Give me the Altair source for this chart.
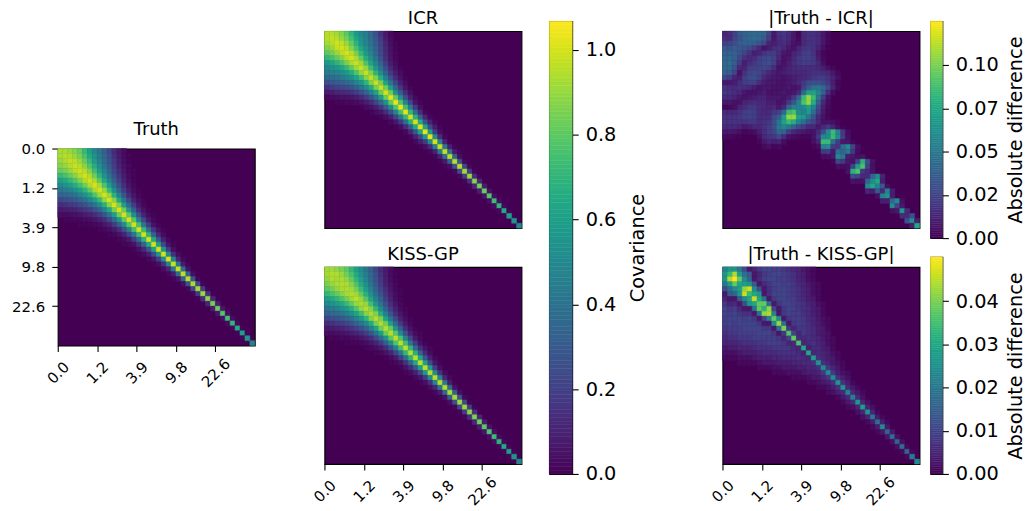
# Cell values on a coarse 40x40 grid.
# Each row lists values from the diagonal rightwards; the lower triangle mirrors it.
import altair as alt
import pandas as pd

tick_labels = ["0.0", "1.2", "3.9", "9.8", "22.6"]
tick_positions = [0, 8, 16, 24, 32]
GRID = 40

truth_rows = [
[.93,.93,.90,.87,.82,.72,.60,.50,.42,.33,.22,.13,.07,.03],
[.95,.94,.90,.85,.76,.65,.54,.44,.35,.25,.15,.08,.03,.01],
[.97,.95,.90,.82,.71,.59,.47,.37,.27,.17,.09,.04,.01],
[.98,.95,.88,.78,.66,.53,.41,.30,.19,.10,.05,.02],
[.99,.95,.86,.74,.60,.47,.34,.22,.13,.06,.02,.01],
[1.0,.94,.83,.69,.54,.40,.27,.16,.08,.03,.01],
[1.0,.93,.80,.64,.48,.33,.20,.10,.04,.01],
[1.0,.92,.77,.59,.41,.26,.14,.06,.02],
[1.0,.90,.72,.52,.34,.19,.09,.03,.01],
[1.0,.89,.68,.47,.28,.14,.06,.02],
[1.0,.87,.64,.42,.23,.10,.04,.01],
[1.0,.85,.60,.37,.18,.07,.02],
[1.0,.83,.56,.32,.14,.05,.01],
[1.0,.80,.52,.27,.10,.03,.01],
[1.0,.78,.47,.22,.07,.02],
[1.0,.75,.42,.18,.05,.01],
[1.0,.72,.39,.16,.05,.01],
[1.0,.69,.34,.12,.03],
[1.0,.65,.29,.09,.02],
[1.0,.61,.24,.06,.01],
[1.0,.57,.19,.04],
[1.0,.52,.15,.03],
[1.0,.48,.11,.02],
[.98,.43,.08,.01],
[.97,.38,.05],
[.96,.33,.04],
[.95,.28,.02],
[.93,.23,.01],
[.92,.18,.01],
[.90,.14],
[.88,.11],
[.85,.08],
[.82,.06],
[.78,.04],
[.74,.03],
[.70,.02],
[.65,.01],
[.60,.01],
[.55],
[.48],
]

icr_rows = [
[.95,.95,.92,.87,.80,.70,.58,.50,.44,.36,.26,.15,.07,.02],
[.97,.95,.90,.84,.75,.63,.53,.46,.38,.29,.18,.08,.03],
[1.0,.97,.90,.81,.69,.57,.48,.40,.31,.21,.11,.04,.01],
[1.0,.96,.87,.76,.63,.52,.43,.33,.22,.12,.05,.01],
[1.0,.95,.85,.71,.58,.47,.36,.24,.13,.05,.02],
[1.0,.93,.81,.66,.53,.41,.27,.15,.06,.02],
[.98,.91,.77,.62,.48,.33,.19,.08,.03],
[.98,.89,.73,.57,.41,.25,.12,.05,.01],
[.97,.87,.70,.52,.34,.18,.08,.03],
[.97,.86,.66,.46,.27,.13,.05,.01],
[.98,.85,.62,.41,.22,.09,.03],
[.98,.83,.59,.36,.17,.06,.01],
[1.0,.83,.55,.31,.13,.04],
[1.03,.81,.52,.26,.09,.02],
[1.04,.78,.48,.22,.06,.01],
[1.04,.75,.43,.17,.04],
[1.03,.71,.39,.13,.02],
[1.0,.68,.33,.11,.02],
[1.0,.66,.29,.10,.02],
[1.02,.63,.24,.08,.01],
[1.03,.58,.18,.04],
[1.03,.52,.14,.02],
[1.0,.47,.10,.01],
[.98,.43,.09,.01],
[.97,.39,.07,.01],
[.96,.33,.04],
[.95,.27,.02],
[.95,.23,.02],
[.92,.19,.01],
[.90,.14,.01],
[.87,.11],
[.84,.08],
[.82,.05],
[.78,.04],
[.73,.03],
[.70,.02],
[.65,.01],
[.60],
[.55],
[.48],
]

kiss_rows = [
[.91,.92,.89,.85,.80,.71,.60,.51,.42,.33,.22,.13,.07,.03],
[.94,.94,.90,.84,.76,.65,.54,.44,.35,.25,.15,.08,.03,.01],
[.92,.93,.89,.81,.70,.59,.47,.37,.27,.17,.09,.04,.01],
[.94,.93,.87,.77,.65,.53,.41,.30,.19,.10,.05,.02],
[.93,.92,.84,.72,.59,.46,.34,.22,.13,.06,.02,.01],
[.94,.91,.81,.67,.53,.39,.27,.16,.08,.03,.01],
[.96,.90,.78,.62,.47,.33,.20,.10,.04,.01],
[.93,.89,.74,.57,.41,.26,.14,.06,.02],
[.95,.87,.70,.51,.34,.19,.09,.03,.01],
[.93,.86,.66,.46,.28,.14,.06,.02],
[.95,.85,.62,.41,.23,.10,.04,.01],
[.94,.83,.59,.37,.18,.07,.02],
[.95,.82,.55,.32,.14,.05,.01],
[.95,.79,.51,.27,.10,.03,.01],
[.96,.77,.47,.22,.07,.02],
[.96,.74,.42,.18,.05,.01],
[.96,.71,.38,.15,.05,.01],
[.96,.68,.34,.12,.03],
[.96,.64,.29,.09,.02],
[.96,.60,.24,.06,.01],
[.96,.56,.19,.04],
[.95,.51,.15,.03],
[.95,.47,.11,.02],
[.95,.42,.08,.01],
[.94,.37,.05],
[.93,.32,.04],
[.92,.27,.02],
[.91,.23,.01],
[.90,.18,.01],
[.88,.14],
[.86,.11],
[.83,.08],
[.80,.06],
[.77,.04],
[.73,.03],
[.69,.02],
[.65,.01],
[.60,.01],
[.55],
[.48],
]

# thousandths
icr_diff_rows = [
[12,16,24,35,38,40,42,40,38,25,8,18,20,16,8,2,15,18,18,15,8,3],
[15,25,32,38,42,44,42,36,22,8,16,18,15,8,3,14,18,18,15,8,3],
[30,36,38,38,36,32,26,12,10,15,16,12,6,5,14,18,18,15,7,2],
[34,32,28,22,14,6,10,16,18,14,8,6,12,18,20,18,12,5,1],
[25,18,10,12,18,22,22,16,8,6,12,16,22,24,18,8,2],
[14,16,22,26,28,24,14,6,8,14,20,24,24,20,10,3],
[20,24,28,30,24,10,6,10,16,20,22,22,20,14,4],
[24,26,24,16,6,8,12,14,16,16,16,16,14,10,5,2],
[20,14,10,8,10,12,14,14,14,16,18,18,16,14,8,3],
[10,8,8,6,8,10,12,14,16,20,22,22,18,12,5],
[8,6,6,8,10,14,20,28,30,30,26,20,10,2],
[6,6,8,6,8,24,36,48,50,42,28,12,3],
[8,6,8,14,42,70,72,58,38,16,4],
[10,20,40,85,105,85,50,22,6],
[34,55,90,105,78,38,14,4],
[55,60,72,55,28,10,3],
[55,68,45,22,8,2],
[50,32,14,6,2],
[25,14,6,6,5,2],
[8,14,20,12,4,1],
[30,60,85,55,20,4],
[60,85,60,22,5],
[45,22,8,8,2],
[20,45,60,25,5],
[40,50,20,4],
[10,8,5,6],
[6,25,80,30,6],
[70,90,25,5],
[20,15,6],
[15,40,60,12],
[60,75,10],
[55,35,5],
[15,55,10],
[65,10],
[40,60,5],
[25,8],
[65,15],
[15,30],
[60,10],
[75],
]

kiss_diff_rows = [
[22,26,26,20,12,3,5,8,10,10,9,9,8,7,6,5,3,2,1],
[34,44,28,18,14,3,5,8,9,10,10,9,8,7,5,4,2,1],
[50,38,24,16,3,6,9,10,10,9,9,8,7,5,4,2,1],
[30,28,26,14,3,6,8,10,10,9,9,8,6,5,3,2,1],
[42,46,24,12,3,7,9,10,10,9,8,7,5,4,2,1],
[34,30,26,3,7,10,10,10,9,8,7,5,4,2,1],
[46,30,18,3,8,10,10,9,9,7,6,4,3,1],
[38,38,18,3,8,10,10,9,8,7,5,4,2,1],
[32,42,10,3,8,10,9,8,7,6,4,3,1],
[44,22,3,8,10,9,9,7,6,4,3,1],
[38,24,3,8,9,9,8,6,5,3,2,1],
[42,18,3,8,9,8,7,5,4,2,1],
[40,8,5,8,8,7,6,4,3,1],
[36,10,5,8,7,6,4,3,2],
[38,6,6,7,6,5,3,2,1],
[36,5,6,7,5,4,2,1],
[30,4,6,6,4,3,1],
[30,5,6,5,4,2,1],
[28,7,5,4,3,1],
[26,7,5,3,2,1],
[24,8,5,3,1],
[24,8,4,2,1],
[24,7,4,2],
[26,7,4,1],
[26,6,3,1],
[22,6,3,1],
[22,6,2],
[26,5,2],
[28,5,2],
[26,5,1],
[20,4,1],
[18,4,1],
[24,3],
[16,3],
[18,2],
[16,2],
[18,1],
[16,1],
[20],
[24],
]

cov_ticks = [0.0, 0.2, 0.4, 0.6, 0.8, 1.0]
cov_labels = ["0.0", "0.2", "0.4", "0.6", "0.8", "1.0"]
icr_diff_ticks = [0.0, 0.025, 0.05, 0.075, 0.1]
icr_diff_labels = ["0.00", "0.02", "0.05", "0.07", "0.10"]
kiss_diff_ticks = [0.0, 0.01, 0.02, 0.03, 0.04]
kiss_diff_labels = ["0.00", "0.01", "0.02", "0.03", "0.04"]
COV_MAX, ICR_MAX, KISS_MAX = 1.068, 0.1253, 0.0502

FONT = "DejaVu Sans"
DARK = "#440154"


def label_expr(values, labels):
    pairs = ", ".join(f"'{v:g}': '{l}'" for v, l in zip(values, labels))
    return "({" + pairs + "})[format(datum.value, '')]"


def cells(rows, unit=1.0):
    out = []
    for i, row in enumerate(rows):
        for d, v in enumerate(row):
            j = i + d
            out.append(dict(r=i, r2=i + 1, c=j, c2=j + 1, v=v * unit))
            if d:
                out.append(dict(r=j, r2=j + 1, c=i, c2=i + 1, v=v * unit))
    return pd.DataFrame(out)


def heat(rows, title, vmax, unit=1.0, xaxis=True, yaxis=False):
    sc = alt.Scale(scheme="viridis", domain=[0, vmax], clamp=True)
    common = dict(values=tick_positions, tickSize=6, tickWidth=1.1, tickColor="black",
                  labelFont=FONT, labelFontSize=15, labelColor="black", domain=False,
                  grid=False, title=None, labelExpr=label_expr(tick_positions, tick_labels))
    xa = alt.Axis(orient="bottom", labelAngle=315, labelAlign="center", labelBaseline="middle",
                  labelPadding=21, labelOverlap=False, **common) if xaxis else None
    ya = alt.Axis(orient="left", labelPadding=7, labelOverlap=False, **common) if yaxis else None
    return alt.Chart(cells(rows, unit)).mark_rect(strokeWidth=0.5).encode(
        x=alt.X("c:Q", scale=alt.Scale(domain=[0, GRID], nice=False), axis=xa),
        x2="c2:Q",
        y=alt.Y("r:Q", scale=alt.Scale(domain=[GRID, 0], nice=False), axis=ya),
        y2="r2:Q",
        color=alt.Color("v:Q", scale=sc, legend=None),
        stroke=alt.Stroke("v:Q", scale=sc, legend=None),
    ).properties(
        width=198, height=198,
        title=alt.TitleParams(title, font=FONT, fontSize=18, fontWeight="normal", color="black", offset=3),
        view=alt.ViewBackground(fill=DARK, stroke="black", strokeWidth=1.1),
    )


def colorbar(vmax, ticks, labels, title, w, h, title_pad):
    steps = 120
    df = pd.DataFrame([dict(a=vmax * k / steps, b=vmax * (k + 1) / steps, v=vmax * (k + .5) / steps)
                       for k in range(steps)])
    sc = alt.Scale(scheme="viridis", domain=[0, vmax])
    props = dict(width=w, height=h, view=alt.ViewBackground(stroke="black", strokeWidth=1.1))
    return alt.Chart(df).mark_rect(strokeWidth=0.5).encode(
        y=alt.Y("a:Q", scale=alt.Scale(domain=[0, vmax], nice=False), axis=alt.Axis(
            orient="right", values=ticks, labelExpr=label_expr(ticks, labels), tickSize=6,
            tickWidth=1.1, tickColor="black", labelFont=FONT, labelFontSize=19.4, labelColor="black",
            labelPadding=7, labelOverlap=False, domain=False, grid=False, title=title, titleFont=FONT,
            titleFontSize=19.4, titleFontWeight="normal", titleColor="black", titleAngle=270,
            titleBaseline="top", titlePadding=title_pad)),
        y2="b:Q",
        color=alt.Color("v:Q", scale=sc, legend=None),
        stroke=alt.Stroke("v:Q", scale=sc, legend=None),
    ).properties(**props)


def spacer(h):
    return alt.Chart(pd.DataFrame({"a": [0]})).mark_point(opacity=0).encode(
        x=alt.X("a:Q", axis=None), y=alt.Y("a:Q", axis=None)
    ).properties(width=1, height=h, view=alt.ViewBackground(stroke="transparent"))


def vc(*charts, spacing):
    return alt.vconcat(*charts, spacing=spacing).resolve_scale(color="independent", stroke="independent")


def hc(*charts, spacing):
    return alt.hconcat(*charts, spacing=spacing).resolve_scale(color="independent", stroke="independent")


truth = heat(truth_rows, "Truth", COV_MAX, yaxis=True)
icr = heat(icr_rows, "ICR", COV_MAX, xaxis=False)
kiss = heat(kiss_rows, "KISS-GP", COV_MAX)
d_icr = heat(icr_diff_rows, "|Truth - ICR|", ICR_MAX, unit=0.001, xaxis=False)
d_kiss = heat(kiss_diff_rows, "|Truth - KISS-GP|", KISS_MAX, unit=0.001)

col_a = vc(spacer(1), truth, spacing=95)
col_b = vc(spacer(1), vc(icr, kiss, spacing=16), spacing=-16)
col_c = colorbar(COV_MAX, cov_ticks, cov_labels, "Covariance", 23, 455, 13)
col_d = vc(spacer(1), vc(d_icr, d_kiss, spacing=16), spacing=-16)
col_e = vc(colorbar(ICR_MAX, icr_diff_ticks, icr_diff_labels, "Absolute difference", 12, 218, 8),
           colorbar(KISS_MAX, kiss_diff_ticks, kiss_diff_labels, "Absolute difference", 12, 218, 8),
           spacing=8)

chart = hc(hc(col_a, col_b, spacing=55), hc(col_c, hc(col_d, col_e, spacing=9), spacing=61), spacing=26).properties(
    padding={"left": 3, "top": 0, "right": 0, "bottom": 0}, background="white"
)

chart.save("out.html", embed_options={"renderer": "svg", "actions": False})
